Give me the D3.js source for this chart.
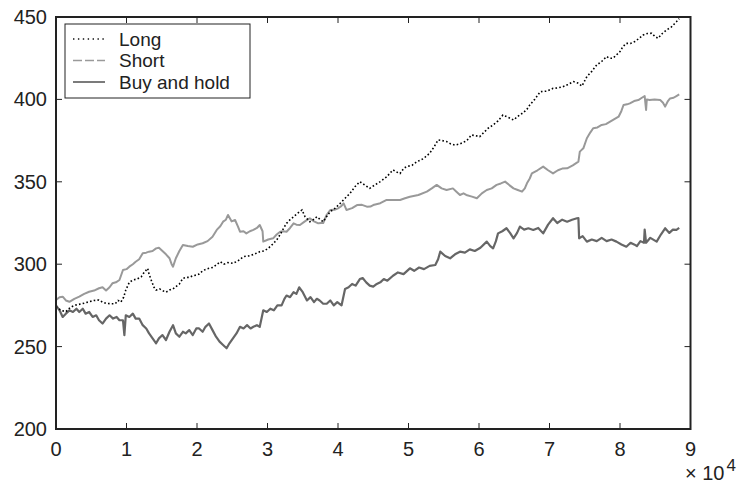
<!DOCTYPE html>
<html>
<head>
<meta charset="utf-8">
<script src="https://cdn.jsdelivr.net/npm/d3@7/dist/d3.min.js"></script>
<style>
  html, body { margin: 0; padding: 0; background: #fff; }
  svg { display: block; font-family: "Liberation Sans", Arial, Helvetica, sans-serif; }
</style>
</head>
<body>
<svg id="chart" width="742" height="497"></svg>
<script>
// Sample index (thousands of samples) and portfolio value for each strategy
const longX = [0,0.7,1.4,2.1,2.8,3.7,4.7,5.4,6.1,6.6,7.1,7.8,8.4,8.8,9.2,9.6,9.9,10.4,10.9,11.5,12.1,12.5,13.0,13.2,13.5,13.9,14.2,14.7,15.1,15.6,16.1,16.6,17.0,17.5,18.0,18.5,18.9,19.4,19.9,20.3,20.8,21.3,21.7,22.2,22.7,23.3,23.8,24.4,25.1,25.8,26.6,27.3,28.1,28.9,29.5,30.1,30.7,31.3,31.8,32.3,32.7,33.2,33.7,34.3,34.9,35.3,36.0,36.5,37.0,37.5,37.9,38.4,38.9,39.6,40.3,41.0,41.7,42.4,43.1,43.8,44.5,45.2,46.0,46.9,47.8,48.3,48.8,49.3,49.7,50.5,51.2,52.1,53.0,53.6,54.2,54.8,55.4,56.0,56.6,57.3,58.0,58.5,58.9,59.5,60.1,60.7,61.3,62.0,62.7,63.4,64.2,64.9,65.6,66.3,66.8,67.2,67.9,68.7,69.6,70.5,71.2,71.9,72.6,73.4,74.0,74.6,75.3,76.0,76.7,77.4,78.1,78.5,79.0,79.5,80.0,80.4,80.9,81.5,82.1,82.7,83.3,83.9,84.5,85.0,85.4,86.0,86.6,87.3,88.0,88.4];
const longY = [274.2,272,271.2,274,275.2,276,277.2,278,278.3,277,276.2,276,276,278,277,280,284.3,289,290.4,291,292.4,295,297.5,294,290.4,286,284.3,285,284,283,284.3,285,286.4,288,291.4,292,292,293,293.4,294,296,297,297.5,298,299.5,301.5,300,301,300.5,302,304.6,305,306,307.6,308,309.6,312,314.7,318,322,324.8,327,328.8,331,332.9,329,325.8,327,328.8,327,325.8,329,331.9,334,336.9,340,343,347,350.1,348,346,348,350.1,353,357.2,356,355,358,359.2,360,362.2,364,367.3,371,375.4,375,374.4,373,372.3,373,374.4,376,378.4,378,377.4,380,382.5,384.5,387,390.5,389,387.5,390,392,394,396.6,400,404.7,405,406.7,407,407.7,409,410.8,410,408.1,413.8,417,420.9,423,426,425,425,427,429,432,434,434,435.1,437,439.1,440,440.1,438,437.1,440,442.1,444,447.1,449];

const shortX = [0,0.5,0.95,1.4,1.9,2.6,3.3,4.0,4.7,5.4,6.1,6.6,7.1,7.6,8.0,8.5,9.0,9.5,10.0,10.4,10.9,11.3,11.8,12.3,12.8,13.2,13.7,14.2,14.6,15.1,15.6,16.1,16.4,16.6,17.0,17.5,18.0,18.7,19.4,20.1,20.8,21.5,22.2,22.8,23.3,23.7,24.1,24.4,24.9,25.4,25.8,26.1,26.6,27.0,27.5,28.0,28.5,28.9,29.3,29.4,30.1,30.8,31.3,31.8,32.2,32.7,33.2,33.7,34.1,34.6,35.3,36.0,36.6,37.2,37.6,37.9,38.4,38.9,39.5,40.0,40.4,40.8,41.2,42.0,42.7,43.4,44.1,44.6,45.0,46.0,46.9,47.8,48.8,49.5,50.2,51.4,52.6,53.3,54.0,54.7,55.4,56.3,56.8,57.3,57.8,58.2,59.0,59.7,60.4,61.1,61.8,62.5,63.1,63.7,64.3,64.9,65.5,66.1,66.5,66.8,67.2,67.5,68.3,69.1,69.8,70.5,71.2,71.8,72.5,73.3,74.1,74.3,74.8,75.3,75.8,76.2,76.8,77.4,78.0,78.6,79.2,79.8,80.2,80.5,81.0,81.4,82.0,82.6,83.1,83.5,83.7,83.8,84.2,84.9,85.7,86.1,86.4,86.8,87.1,87.6,88.0,88.4];
const shortY = [278.3,280,280.3,278,277.2,279,280.3,282,283.3,284,285.4,286,284,286,288.4,289,290.4,296.5,297,298.5,300,301.5,303,306.6,307,307.6,308,309.6,310,308,306,303.6,300,298.5,303.6,308,311.7,311,310.6,312,312.7,314,316.7,320.8,323,325.8,327,329.9,326,326.8,323,319.7,320,318.7,320,320.8,322,323.8,320,313.7,315,315.7,318,319.7,320,319.7,322,324.8,324,323.8,326,327.9,326,324.8,325,325,330,332.9,333,333.9,335,336.9,332.9,334,335.9,336,334.9,335,335.9,337,339,339,339,340,340.9,342,344,346,348.1,346,345,346,344,342,343,342,341,340,343,345,346,348.1,349,350.1,348,346,345,344,346,349.1,352,355.1,357,359.2,357,355.1,357,358,358.2,360,362.2,368.3,370.3,376.4,380,382.5,383,384.5,385,386.5,388,389.5,393,396.6,397,397.6,399,399.6,401,402,393.6,400,399.6,400,399.6,398,395.6,399,400.6,401,402,403];

const holdX = [0,0.5,0.95,1.4,1.9,2.4,2.9,3.3,3.8,4.2,4.7,5.2,5.7,6.1,6.6,7.1,7.6,8.1,8.6,9.0,9.5,9.7,9.9,10.4,10.9,11.3,11.8,12.3,12.8,13.2,13.7,14.2,14.6,15.1,15.6,16.1,16.6,17.0,17.5,18.0,18.4,18.9,19.4,19.9,20.3,20.8,21.2,21.7,22.2,22.7,23.2,23.7,24.2,24.6,25.1,25.6,26.1,26.6,27.1,27.6,28.0,28.5,28.9,29.4,29.9,30.4,30.9,31.4,32.0,32.4,32.7,33.2,33.7,34.1,34.5,35.0,35.6,36.1,36.6,37.0,37.4,37.9,38.4,38.9,39.4,39.9,40.5,41.0,41.5,42.0,42.5,43.1,43.5,44.0,44.5,45.0,45.5,46.0,46.5,47.0,47.8,48.5,49.3,50.2,50.8,51.5,52.2,53.0,53.8,54.2,54.5,55.2,55.9,56.6,57.3,58.0,58.7,59.4,60.2,61.1,61.6,62.0,62.4,62.7,63.3,63.9,64.4,64.9,65.4,65.8,66.4,67.0,67.7,68.4,69.1,69.8,70.5,71.1,71.8,72.5,73.2,73.9,74.1,74.2,74.7,75.3,76.0,76.7,77.4,78.1,78.8,79.5,80.2,80.9,81.5,82.0,82.4,82.9,83.4,83.5,83.7,84.3,85.2,85.8,86.4,87.0,87.5,88.0,88.4];
const holdY = [275,272,268,270,272,271,273,271,273,270,271,268,269,266,264,267,269,267,268,266,266,257,269,268,270,267,267,263,261,258,255,252,255,257,254,259,263,258,256,259,258,260,257,261,261,259,262,264,260,256,253,251,249,252,255,258,262,261,263,261,262,263,262,272,271,273,272,275,275,279,281,280,283,282,286,283,278,280,277,279,278,276,276,278,275,277,275,285,286,288,287,291,291.6,289,287,286.4,288,289,291,290,293,295,294,297.5,296,298,297,299,299.5,303,307.6,305,303.6,306,307.6,307,309,308,310,313.7,311,309.6,314,318.7,320,321.8,319,315.7,319,322.8,321,321.8,320.8,322,318.7,324,327.9,325,327,325.8,327,327.9,328,315.7,317,313.7,315,314,316,314,315,313.7,312,310.6,313,312,311,314,313,321,313,316,313.7,318,321.8,319,321,320.8,322];

const seriesNames = ["Long", "Short", "Buy and hold"];
const xTicks = [0, 1, 2, 3, 4, 5, 6, 7, 8, 9];          // ×10^4 samples
const yTicks = [200, 250, 300, 350, 400, 450];

const svg = d3.select("#chart");
const m = { left: 56, right: 742 - 690.5, top: 17, bottom: 497 - 429 };
const W = 742 - m.left - m.right;
const H = 497 - m.top - m.bottom;

const x = d3.scaleLinear().domain([0, 90000]).range([m.left, m.left + W]);
const y = d3.scaleLinear().domain([200, 450]).range([m.top + H, m.top]);

svg.append("defs").append("clipPath").attr("id", "plotclip")
  .append("rect").attr("x", m.left).attr("y", m.top).attr("width", W).attr("height", H);

const toPts = (xs, ys) => xs.map((v, i) => [v * 1000, ys[i]]);
const line = d3.line().x(d => x(d[0])).y(d => y(d[1]));

const plot = svg.append("g").attr("clip-path", "url(#plotclip)");

// Buy and hold: dark grey solid
plot.append("path").datum(toPts(holdX, holdY))
  .attr("d", line).attr("fill", "none")
  .attr("stroke", "#666").attr("stroke-width", 2.2).attr("stroke-linejoin", "round");

// Short strategy: light grey
plot.append("path").datum(toPts(shortX, shortY))
  .attr("d", line).attr("fill", "none")
  .attr("stroke", "#999").attr("stroke-width", 2).attr("stroke-linejoin", "round");

// Long strategy: black dotted
plot.append("path").datum(toPts(longX, longY))
  .attr("d", line).attr("fill", "none")
  .attr("stroke", "#000").attr("stroke-width", 1.6)
  .attr("stroke-dasharray", "1.6,2.2");

// Axes box with inward ticks on all four sides
const ax = svg.append("g");
const tickLen = 6;
xTicks.forEach(t => {
  const px = x(t * 10000);
  ax.append("line").attr("x1", px).attr("x2", px).attr("y1", m.top + H).attr("y2", m.top + H - tickLen)
    .attr("stroke", "#222").attr("stroke-width", 1);
  ax.append("line").attr("x1", px).attr("x2", px).attr("y1", m.top).attr("y2", m.top + tickLen)
    .attr("stroke", "#222").attr("stroke-width", 1);
  ax.append("text").attr("x", px).attr("y", 456).attr("text-anchor", "middle")
    .attr("font-size", 20).attr("fill", "#222").text(t);
});
yTicks.forEach(t => {
  const py = y(t);
  ax.append("line").attr("x1", m.left).attr("x2", m.left + tickLen).attr("y1", py).attr("y2", py)
    .attr("stroke", "#222").attr("stroke-width", 1);
  ax.append("line").attr("x1", m.left + W).attr("x2", m.left + W - tickLen).attr("y1", py).attr("y2", py)
    .attr("stroke", "#222").attr("stroke-width", 1);
  ax.append("text").attr("x", 47).attr("y", py + 7).attr("text-anchor", "end")
    .attr("font-size", 20).attr("fill", "#222").text(t);
});
ax.append("rect").attr("x", m.left).attr("y", m.top).attr("width", W).attr("height", H)
  .attr("fill", "none").attr("stroke", "#222").attr("stroke-width", 2);

// Exponent label for the x axis
const ex = ax.append("text").attr("x", 685).attr("y", 480).attr("fill", "#222");
ex.append("tspan").attr("font-size", 20).text("× 10");
ex.append("tspan").attr("font-size", 17).attr("dy", -9).attr("dx", 2).text("4");

// Legend
const lg = svg.append("g");
lg.append("rect").attr("x", 65).attr("y", 24).attr("width", 185).attr("height", 74)
  .attr("fill", "#fff").attr("stroke", "#222").attr("stroke-width", 1);
const legendStyles = [
  { color: "#111", width: 1.3, dash: "1.4,3.5" },
  { color: "#9a9a9a", width: 1.3, dash: "9,3" },
  { color: "#333", width: 1.3, dash: null }
];
seriesNames.forEach((name, i) => {
  const base = 45.5 + i * 21.5;
  const s = legendStyles[i];
  const l = lg.append("line").attr("x1", 73).attr("x2", 105).attr("y1", base - 6.5).attr("y2", base - 6.5)
    .attr("stroke", s.color).attr("stroke-width", s.width);
  if (s.dash) l.attr("stroke-dasharray", s.dash);
  lg.append("text").attr("x", 119).attr("y", base).attr("font-size", 19).attr("fill", "#222").text(name);
});
</script>
</body>
</html>
